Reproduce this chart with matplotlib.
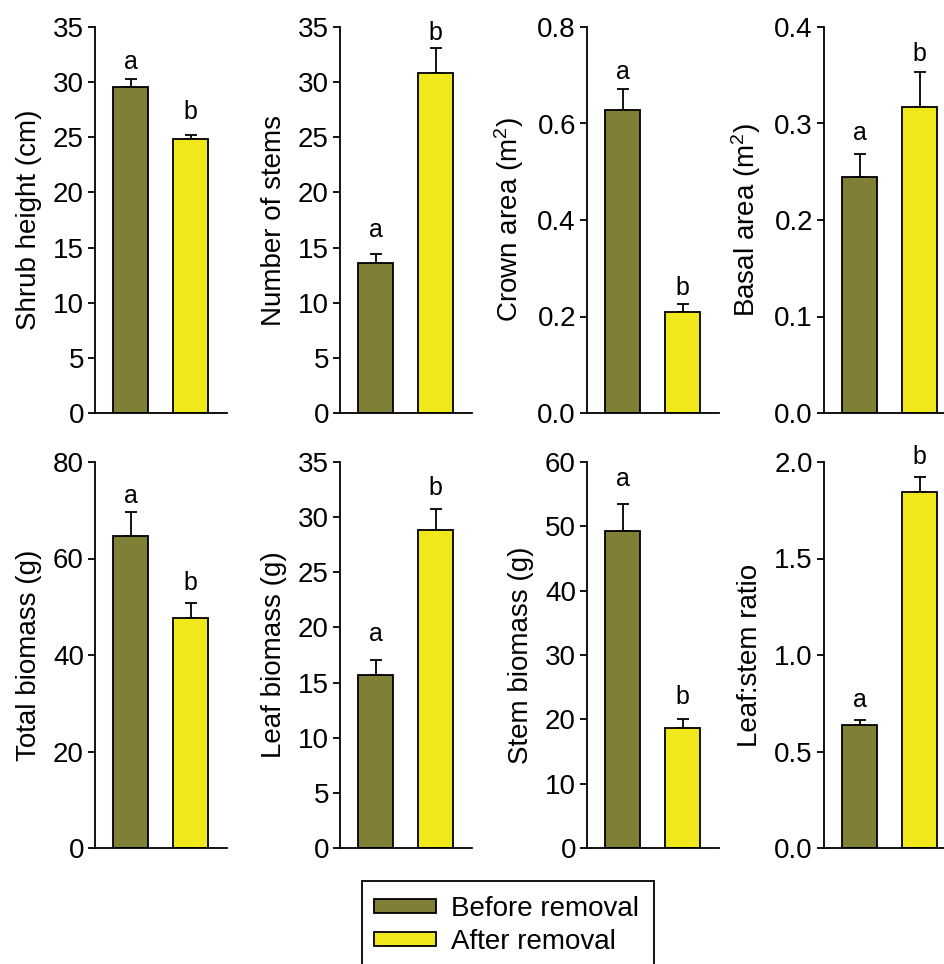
import matplotlib
matplotlib.use("Agg")
import matplotlib.pyplot as plt
from matplotlib.patches import Patch, Rectangle
import numpy as np

plt.rcParams['font.family'] = ['Liberation Sans', 'DejaVu Sans']
plt.rcParams['mathtext.fontset'] = 'custom'
plt.rcParams['mathtext.rm'] = 'Liberation Sans'
plt.rcParams['mathtext.it'] = 'Liberation Sans:italic'

groups = ["Before removal", "After removal"]
colors = ["#7f7f35", "#f0e81a"]

ylabels = ["Shrub height (cm)", "Number of stems", "Crown area (m$^{2}$)", "Basal area (m$^{2}$)",
           "Total biomass (g)", "Leaf biomass (g)", "Stem biomass (g)", "Leaf:stem ratio"]

means = [[29.6, 24.8], [13.6, 30.8], [0.629, 0.210], [0.245, 0.317],
         [64.6, 47.6], [15.7, 28.85], [49.3, 18.6], [0.635, 1.845]]
errs = [[0.65, 0.4], [0.8, 2.3], [0.043, 0.015], [0.023, 0.036],
        [5.1, 3.1], [1.33, 1.9], [4.1, 1.5], [0.03, 0.075]]
letters = [["a", "b"]] * 8
letter_y = [[31.8, 27.3], [16.6, 34.5], [0.706, 0.259], [0.290, 0.372],
            [72.9, 54.9], [19.4, 32.6], [57.4, 23.5], [0.766, 2.026]]

ymax = [35, 35, 0.8, 0.4, 80, 35, 60, 2.0]
ystep = [5, 5, 0.2, 0.1, 20, 5, 10, 0.5]
yfmt = ["{:.0f}", "{:.0f}", "{:.1f}", "{:.1f}", "{:.0f}", "{:.0f}", "{:.0f}", "{:.1f}"]

W, H = 944, 964
fig = plt.figure(figsize=(W / 100, H / 100), dpi=100)

lefts = [95, 340, 587, 824]
row_bottoms = [413, 848]
ax_w, ax_h = 132, 386
LW = 1.3

x = np.arange(2)
for i in range(8):
    r, c = divmod(i, 4)
    ax = fig.add_axes([lefts[c] / W, (H - row_bottoms[r]) / H, ax_w / W, ax_h / H])
    ax.bar(x, means[i], width=0.583, color=colors, edgecolor="black", linewidth=LW, zorder=2)
    ax.errorbar(x, means[i], yerr=[[0, 0], errs[i]], fmt="none", ecolor="black",
                elinewidth=LW, capsize=4, capthick=LW, zorder=1)
    for j in range(2):
        ax.text(x[j], letter_y[i][j], letters[i][j], ha="center", va="center",
                fontsize=18, clip_on=False)
    ax.set_xlim(-0.592, 1.608)
    ax.set_ylim(0, ymax[i])
    ticks = np.arange(0, ymax[i] + ystep[i] / 2, ystep[i])
    ax.set_yticks(ticks)
    ax.set_yticklabels([yfmt[i].format(t) for t in ticks])
    ax.set_xticks([])
    ax.spines["top"].set_visible(False)
    ax.spines["right"].set_visible(False)
    ax.spines["left"].set_linewidth(LW)
    ax.spines["bottom"].set_linewidth(LW)
    ax.tick_params(axis="y", direction="out", length=5, width=LW, labelsize=20, pad=3)
    ax.set_ylabel(ylabels[i], fontsize=20, labelpad=8)

# legend frame (extends past the bottom edge, as in the reference)
box_l, box_t, box_r, box_b = 362, 881, 654, 990
fig.patches.append(Rectangle((box_l / W, 1 - box_b / H), (box_r - box_l) / W, (box_b - box_t) / H,
                             transform=fig.transFigure, facecolor="white", edgecolor="black",
                             linewidth=LW, zorder=0))

handles = [Patch(facecolor=colors[k], edgecolor="black", linewidth=LW, label=groups[k]) for k in range(2)]
leg = fig.legend(handles=handles, loc="upper left", bbox_to_anchor=(box_l / W, 1 - (box_t + 3) / H),
                 fontsize=20, frameon=False,
                 handlelength=2.23, handleheight=0.4, handletextpad=0.54, borderpad=0.42,
                 labelspacing=0.27, borderaxespad=0)

fig.savefig("out.png", dpi=100)
